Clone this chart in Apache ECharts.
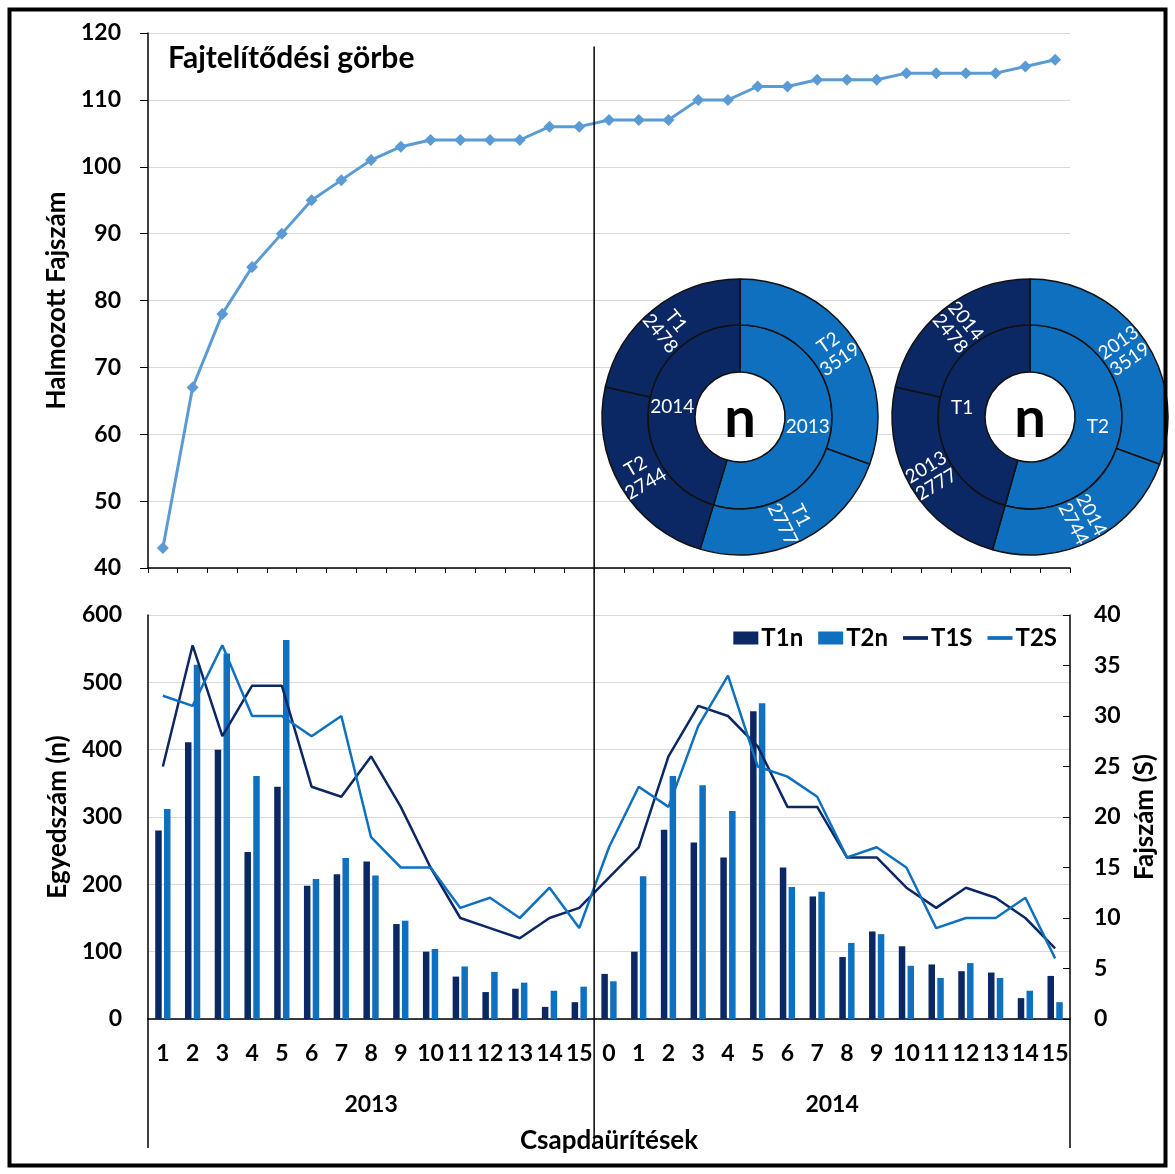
<!DOCTYPE html>
<html><head><meta charset="utf-8">
<script src="https://cdn.jsdelivr.net/npm/echarts@6/dist/echarts.min.js"></script>
<style>html,body{margin:0;padding:0;background:#fff}#c{width:1175px;height:1174px}</style>
</head><body><div id="c"></div>
<script>
// ---- data ----
const cats2013 = ['1','2','3','4','5','6','7','8','9','10','11','12','13','14','15'];
const cats2014 = ['0','1','2','3','4','5','6','7','8','9','10','11','12','13','14','15'];
const years = ['2013','2014'];
const cumSpecies = [43,67,78,85,90,95,98,101,103,104,104,104,104,106,106,
                    107,107,107,110,110,112,112,113,113,113,114,114,114,114,115,116];
const T1n = [280,411,400,248,345,198,215,234,141,100,63,40,45,18,25,
             67,100,281,262,240,457,225,182,92,130,108,81,71,69,31,64];
const T2n = [312,526,543,361,563,208,239,213,146,104,78,70,54,42,48,
             56,212,361,347,309,469,196,189,113,126,79,61,83,61,42,25];
const T1S = [25,37,28,33,33,23,22,26,21,15,10,9,8,10,11,
             14,17,26,31,30,27,21,21,16,16,13,11,13,12,10,7];
const T2S = [32,31,37,30,30,28,30,18,15,15,11,12,10,13,9,
             17,23,21,29,34,25,24,22,16,17,15,9,10,10,12,6];
const totals2013 = [2777, 3519]; // T1, T2
const totals2014 = [2478, 2744]; // T1, T2
const leftTicks = [40,120,10];
// ---------------

const categories = cats2013.concat(cats2014);
const FONT = 'Lato';
const DARK = '#0B2865';
const LIGHT = '#0F70C0';
const TOPLINE = '#5B9BD5';
const GRIDC = '#d9d9d9';
const TICK = 23;
const NAME = 26;
const lbl = (s) => ({fontFamily: FONT, fontWeight: 'bold', fontSize: s, color: '#000'});

const chart = echarts.init(document.getElementById('c'));

const sbBase = {
  type: 'sunburst', radius: [45, 138], sort: null, startAngle: 90, clockwise: true,
  nodeClick: false,
  itemStyle: {borderColor: '#111', borderWidth: 1.5},
  label: {color: '#fff', fontFamily: FONT, fontSize: 19, textBorderWidth: 0},
  emphasis: {focus: 'none'},
  levels: [{}, {r0: 45, r: 92, label: {rotate: 0}}, {r0: 92, r: 138, label: {rotate: 'radial', formatter: '{b}\n{c}', lineHeight: 20}}]
};

const node = (name, color, children) => ({name, itemStyle: {color}, children});
const leaf = (name, value, color) => ({name, value, itemStyle: {color}});
const lineIcon = 'path://M0,0H20V3H0Z';

const option = {
  animation: false,
  backgroundColor: '#fff',
  title: {text: 'Fajtelítődési görbe', left: 163, top: 38, textStyle: lbl(30)},
  legend: {
    data: [{name: 'T1n', icon: 'rect'}, {name: 'T2n', icon: 'rect'},
           {name: 'T1S', icon: lineIcon}, {name: 'T2S', icon: lineIcon}],
    right: 113, top: 621, itemWidth: 25, itemHeight: 13, itemGap: 15,
    textStyle: Object.assign({padding: [0, 0, 0, -2]}, lbl(24)), selectedMode: false
  },
  grid: [
    {left: 148, right: 105, top: 33, height: 535},
    {left: 148, right: 105, top: 615, height: 404}
  ],
  xAxis: [
    {gridIndex: 0, type: 'category', data: categories, boundaryGap: true,
     axisLine: {lineStyle: {color: '#000', width: 1.5}},
     axisTick: {show: true, interval: 0, length: 5, lineStyle: {color: '#000'}},
     axisLabel: {show: false}, splitLine: {show: false}},
    {gridIndex: 1, type: 'category', data: categories, boundaryGap: true,
     axisLine: {lineStyle: {color: '#000', width: 1.5}},
     axisTick: {show: false},
     axisLabel: Object.assign({interval: 0, margin: 23, hideOverlap: false}, lbl(TICK))}
  ],
  yAxis: [
    {gridIndex: 0, type: 'value', min: leftTicks[0], max: leftTicks[1], interval: leftTicks[2],
     name: 'Halmozott Fajszám', nameLocation: 'middle', nameGap: 72, nameTextStyle: lbl(NAME),
     axisLine: {show: true, lineStyle: {color: '#000', width: 1.5}},
     axisTick: {show: true, length: 8, lineStyle: {color: '#000'}},
     axisLabel: Object.assign({margin: 27}, lbl(TICK)),
     splitLine: {show: true, lineStyle: {color: GRIDC, width: 1}}},
    {gridIndex: 1, type: 'value', min: 0, max: 600, interval: 100,
     name: 'Egyedszám (n)', nameLocation: 'middle', nameGap: 72, nameTextStyle: lbl(NAME),
     axisLine: {show: true, lineStyle: {color: '#000', width: 1.5}},
     axisTick: {show: false},
     axisLabel: Object.assign({margin: 26}, lbl(TICK)),
     splitLine: {show: true, lineStyle: {color: GRIDC, width: 1}}},
    {gridIndex: 1, type: 'value', min: 0, max: 40, interval: 5, position: 'right',
     name: 'Fajszám (S)', nameLocation: 'middle', nameGap: 62, nameTextStyle: lbl(NAME),
     axisLine: {show: true, lineStyle: {color: '#000', width: 1.5}},
     axisTick: {show: true, inside: true, length: 7, lineStyle: {color: '#000'}},
     axisLabel: Object.assign({margin: 24}, lbl(TICK)),
     splitLine: {show: false}}
  ],
  series: [
    {name: 'Halmozott', type: 'line', xAxisIndex: 0, yAxisIndex: 0, data: cumSpecies,
     symbol: 'diamond', symbolSize: 12, lineStyle: {color: TOPLINE, width: 3},
     itemStyle: {color: TOPLINE}},
    {name: 'T1n', type: 'bar', xAxisIndex: 1, yAxisIndex: 1, data: T1n,
     barWidth: 6.5, barGap: '35%', itemStyle: {color: DARK}},
    {name: 'T2n', type: 'bar', xAxisIndex: 1, yAxisIndex: 1, data: T2n,
     barWidth: 6.5, barGap: '35%', itemStyle: {color: LIGHT}},
    {name: 'T1S', type: 'line', xAxisIndex: 1, yAxisIndex: 2, data: T1S,
     symbol: 'none', lineStyle: {color: DARK, width: 2.5}, itemStyle: {color: DARK}},
    {name: 'T2S', type: 'line', xAxisIndex: 1, yAxisIndex: 2, data: T2S,
     symbol: 'none', lineStyle: {color: LIGHT, width: 2.5}, itemStyle: {color: LIGHT}},
    Object.assign({}, sbBase, {center: [740, 417], data: [
      node(years[0], LIGHT, [leaf('T2', totals2013[1], LIGHT), leaf('T1', totals2013[0], LIGHT)]),
      node(years[1], DARK, [leaf('T2', totals2014[1], DARK), leaf('T1', totals2014[0], DARK)])
    ]}),
    Object.assign({}, sbBase, {center: [1030, 417], data: [
      node('T2', LIGHT, [leaf(years[0], totals2013[1], LIGHT), leaf(years[1], totals2014[1], LIGHT)]),
      node('T1', DARK, [leaf(years[0], totals2013[0], DARK), leaf(years[1], totals2014[0], DARK)])
    ]})
  ]
};
chart.setOption(option);

// derived positions from the library's scales
const xa = i => chart.convertToPixel({xAxisIndex: 1}, i);
const band = xa(1) - xa(0);
const leftB = xa(0) - band / 2;
const rightB = xa(categories.length - 1) + band / 2;
const midB = (xa(cats2013.length - 1) + xa(cats2013.length)) / 2;
const yBase = chart.convertToPixel({yAxisIndex: 1}, 0);
const yTopGrid = chart.convertToPixel({yAxisIndex: 0}, 118);
const bottomY = 1148;
const ln = (x1, y1, x2, y2, w) => ({type: 'line', shape: {x1, y1, x2, y2}, style: {stroke: '#000', lineWidth: w || 1.5}, z: 10});
const tx = (x, y, text, size) => ({type: 'text', x, y, style: Object.assign({text, align: 'center', verticalAlign: 'middle', fill: '#000'}, {font: 'bold ' + size + 'px ' + FONT}), z: 10});

chart.setOption({graphic: [
  {type: 'rect', shape: {x: 9.5, y: 9.5, width: 1156, height: 1156}, style: {fill: 'none', stroke: '#000', lineWidth: 4}, z: 20},
  ln(midB, yTopGrid, midB, bottomY),
  ln(leftB, yBase, leftB, bottomY),
  ln(rightB, yBase, rightB, bottomY),
  tx((leftB + midB) / 2, 1105, years[0], TICK),
  tx((midB + rightB) / 2, 1105, years[1], TICK),
  tx((leftB + rightB) / 2, 1141, 'Csapdaürítések', NAME),
  tx(740, 419, 'n', 56),
  tx(1030, 419, 'n', 56)
]});
</script></body></html>
